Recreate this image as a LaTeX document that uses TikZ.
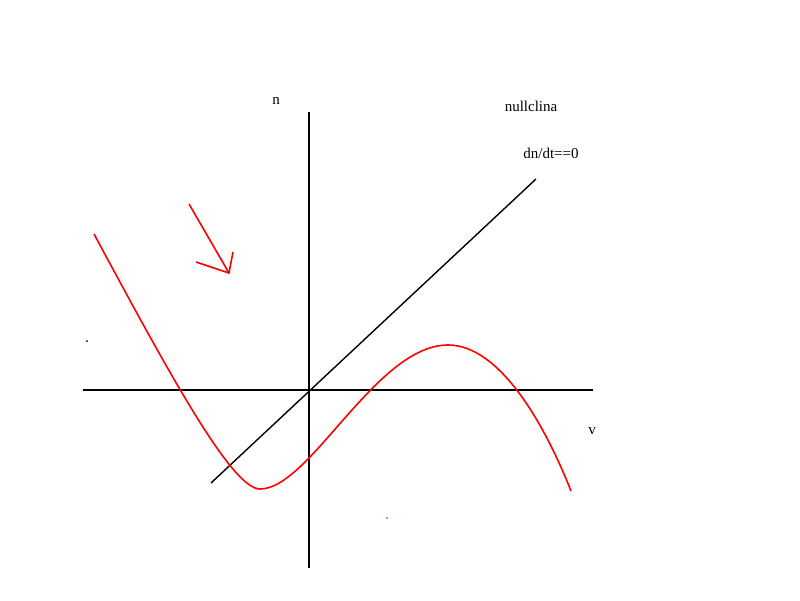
\documentclass[tikz,border=0pt]{standalone}
\usepackage{fontspec}
\setmainfont{Liberation Serif}
\usetikzlibrary{calc}

\begin{document}
\begin{tikzpicture}[
  x=1pt, y=-1pt, font=\fontsize{15}{17}\selectfont,
  ax/.style={line width=1.6pt,black},
  nc/.style={line width=1.6pt,red},
  lb/.style={inner sep=0pt,anchor=center}]
\useasboundingbox (0,0) rectangle (800,600);
% axes
\coordinate (xl) at (83,390); \coordinate (xr) at (593,390);
\coordinate (yt) at (309,112); \coordinate (yb) at (309,568);
\draw[ax](xl)--(xr);\draw[ax](yb)--(yt);
\node[lb] (n) at (276,101) {n};
\node[lb] (v) at (592,431) {v};
% dn/dt=0
\coordinate (l0) at (211,483); \coordinate (l1) at (536,179);
\draw[ax,line width=1.4pt](l0)--(l1);
\node[lb] (ncl) at (531,106) {nullclina};
\node[lb] (ncd) at (551,153) {dn/dt==0};
% dv/dt=0
\coordinate (c0) at (94,234); \coordinate (cmin) at (260,489);
\coordinate (cmax) at (448,345); \coordinate (c1) at (571,491);
\draw[nc](c0) .. controls (170,375) and (232,489) .. (cmin)
  .. controls (310,489) and (376,345) .. (cmax)
  .. controls (500,345) and (545,425) .. (c1);
% arrow
\coordinate (a0) at (189,204); \coordinate (a1) at (229,273);
\coordinate (b1) at (196,262); \coordinate (b2) at (233,252);
\draw[nc](a0)--(a1);\draw[nc](b1)--(a1)--(b2);
% stray dots
\fill (87,341) circle (1pt);
\fill[red] (387,518) circle (0.9pt);
\end{tikzpicture}
\end{document}
